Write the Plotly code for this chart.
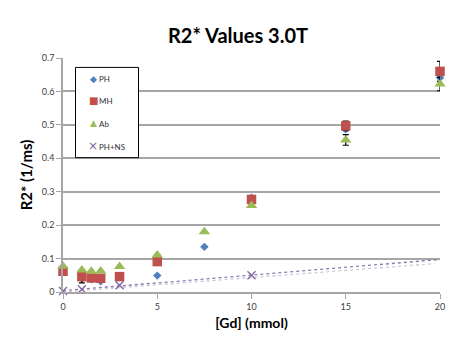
import numpy as np
import plotly.graph_objects as go

# ---- data ----
gd_ph = [0, 1, 1.5, 2, 5, 7.5, 10, 15, 20]
r2_ph = [0.060, 0.040, 0.038, 0.032, 0.049, 0.135, 0.282, 0.487, 0.641]

gd_mh = [0, 1, 1.5, 2, 3, 5, 10, 15, 20]
r2_mh = [0.062, 0.046, 0.042, 0.041, 0.046, 0.091, 0.277, 0.497, 0.660]
err_mh = [0.0, 0.019, 0.0, 0.0, 0.0, 0.0, 0.0, 0.014, 0.030]

gd_ab = [0, 1, 1.5, 2, 3, 5, 7.5, 10, 15, 20]
r2_ab = [0.077, 0.066, 0.062, 0.063, 0.076, 0.111, 0.180, 0.259, 0.455, 0.622]
err_ab = [0, 0, 0, 0, 0, 0, 0, 0, 0.016, 0.020]

gd_ns = [0, 1, 3, 10]
r2_ns = [0.003, 0.008, 0.020, 0.050]

# second (faint) trendline endpoints
trend2_x = [0, 19.7]
trend2_y = [0.0, 0.085]

series_names = ["PH", "MH", "Ab", "PH+NS"]
x_ticks = [0, 5, 10, 15, 20]
y_ticks = [0, 0.1, 0.2, 0.3, 0.4, 0.5, 0.6, 0.7]

BLUE = "#4F81BD"
RED = "#C0504D"
GREEN = "#9BBB59"
PURPLE = "#8064A2"
FONT = "Lato, 'Open Sans', sans-serif"

fig = go.Figure()

# trendlines
slope, icpt = np.polyfit(gd_ns, r2_ns, 1)
tx = np.array([0, 20])
fig.add_trace(go.Scatter(x=trend2_x, y=trend2_y, mode="lines", showlegend=False,
                         line=dict(color="#CFC8DC", width=1.3, dash="dot"), hoverinfo="skip"))
fig.add_trace(go.Scatter(x=tx, y=slope * tx + icpt, mode="lines", showlegend=False,
                         line=dict(color="#8A7CB0", width=1.3, dash="dot"), hoverinfo="skip"))

fig.add_trace(go.Scatter(x=gd_ph, y=r2_ph, mode="markers", name=series_names[0], cliponaxis=False,
                         marker=dict(symbol="diamond", size=6.5, color=BLUE)))
fig.add_trace(go.Scatter(x=gd_mh, y=r2_mh, mode="markers", name=series_names[1], cliponaxis=False,
                         error_y=dict(type="data", array=err_mh, color="black", thickness=1.2, width=3),
                         marker=dict(symbol="square", size=9.5, color=RED)))
fig.add_trace(go.Scatter(x=gd_ab, y=r2_ab, mode="markers", name=series_names[2], cliponaxis=False,
                         error_y=dict(type="data", array=err_ab, color="black", thickness=1.2, width=3),
                         marker=dict(symbol="triangle-up", size=10, color=GREEN)))
fig.add_trace(go.Scatter(x=gd_ns, y=r2_ns, mode="markers", name=series_names[3], cliponaxis=False,
                         marker=dict(symbol="x-thin", size=8, color=PURPLE,
                                     line=dict(color=PURPLE, width=1.3))))

L, R, T, B = 63, 17, 58, 47
W, H = 457, 341
pw, ph = W - L - R, H - T - B


def fx(px):
    return (px - L) / pw


def fy(py):
    return (H - B - py) / ph


shapes = [
    # legend box
    dict(type="rect", xref="paper", yref="paper", x0=fx(75.5), x1=fx(138.5), y0=fy(67.5), y1=fy(158.5),
         line=dict(color="black", width=1), fillcolor="white", layer="above"),
]

# manual legend
sym_chars = ["\u25C6", "\u25A0", "\u25B2", "\u00D7"]
sym_colors = [BLUE, RED, GREEN, PURPLE]
sym_sizes = [9, 10, 9, 12]
leg_y = [79, 101, 124, 147]
annotations = []
for name, ch, col, sz, yy in zip(series_names, sym_chars, sym_colors, sym_sizes, leg_y):
    annotations.append(dict(xref="paper", yref="paper", x=fx(93), y=fy(yy), text=ch, showarrow=False,
                            xanchor="center", yanchor="middle",
                            font=dict(size=sz, color=col, family="DejaVu Sans")))
    annotations.append(dict(xref="paper", yref="paper", x=fx(97), y=fy(yy + 0.5), text=name, showarrow=False,
                            xanchor="left", yanchor="middle",
                            font=dict(size=8, color="#333333", family=FONT)))

fig.update_layout(
    width=W, height=H,
    margin=dict(l=L, r=R, t=T, b=B),
    paper_bgcolor="white", plot_bgcolor="white",
    font=dict(family=FONT, color="#333333"),
    title=dict(text="<b>R2* Values 3.0T</b>", xref="container", x=238 / W, xanchor="center",
               yref="container", y=1 - 36 / H, yanchor="middle",
               font=dict(size=20, color="black", family=FONT)),
    shapes=shapes,
    annotations=annotations,
    showlegend=False,
    xaxis=dict(range=[0, 20], tickvals=x_ticks, showgrid=False, zeroline=False,
               showline=True, linecolor="#A6A6A6", linewidth=1.5,
               ticks="outside", ticklen=5, tickcolor="#A6A6A6",
               tickfont=dict(size=9, color="#404040"),
               title=dict(text="<b>[Gd] (mmol)</b>", font=dict(size=14, color="black"), standoff=8)),
    yaxis=dict(range=[0, 0.7], tickvals=y_ticks, showgrid=True, gridcolor="#A6A6A6", gridwidth=1.5,
               zeroline=False, showline=True, linecolor="#A6A6A6", linewidth=1.5,
               ticks="outside", ticklen=5, tickcolor="#A6A6A6",
               tickfont=dict(size=9, color="#404040"),
               title=dict(text="<b>R2* (1/ms)</b>", font=dict(size=15, color="black"), standoff=6)),
)

fig.write_html("out.html")
